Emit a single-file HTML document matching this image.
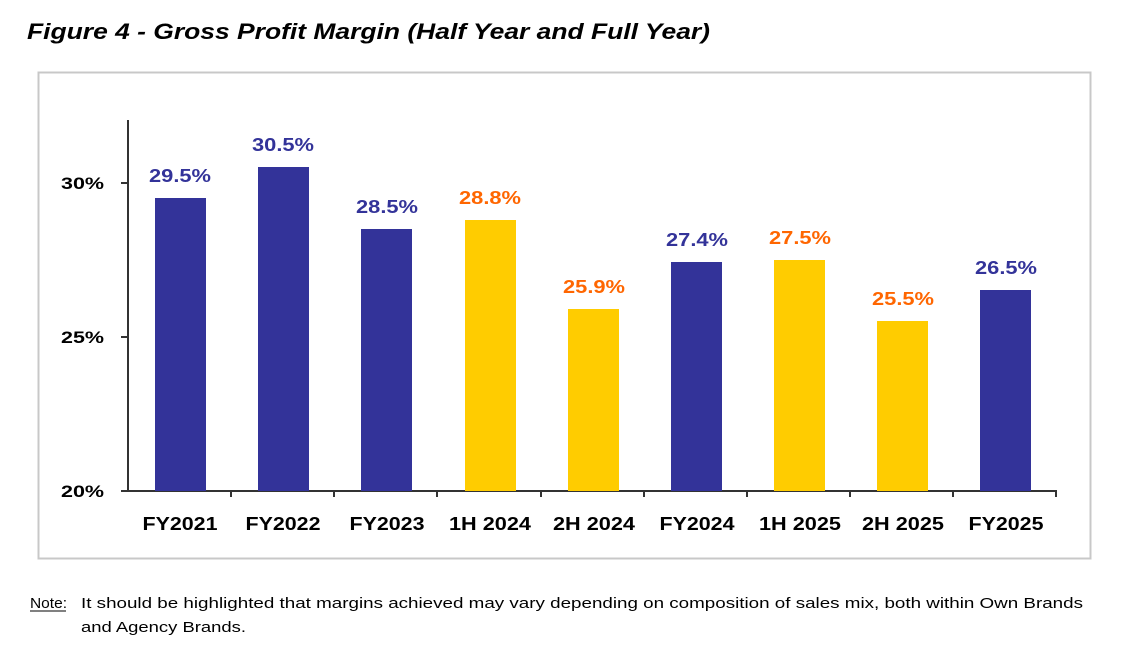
<!DOCTYPE html>
<html><head><meta charset="utf-8"><style>
body{margin:0;background:#fff;width:1130px;height:658px;overflow:hidden;font-family:"Liberation Sans",sans-serif}
</style></head><body>
<svg width="1130" height="658" xmlns="http://www.w3.org/2000/svg">
<text x="27" y="39" font-family="Liberation Sans" font-weight="bold" font-style="italic" font-size="22" fill="#000" textLength="683" lengthAdjust="spacingAndGlyphs">Figure 4 - Gross Profit Margin (Half Year and Full Year)</text>
<rect x="38.5" y="72.5" width="1052" height="486" fill="#fff" stroke="#c8c8c8" stroke-width="2"/>
<g font-family="Liberation Sans" font-weight="bold" font-size="17" fill="#000" text-anchor="end">
<text x="104" y="189" textLength="43" lengthAdjust="spacingAndGlyphs">30%</text><text x="104" y="343" textLength="43" lengthAdjust="spacingAndGlyphs">25%</text><text x="104" y="497" textLength="43" lengthAdjust="spacingAndGlyphs">20%</text>
</g>
<g stroke="#333" stroke-width="2">
<line x1="128" y1="120" x2="128" y2="492"/>
<line x1="121" y1="183" x2="128" y2="183"/><line x1="121" y1="337" x2="128" y2="337"/><line x1="121" y1="491" x2="128" y2="491"/>
<line x1="127" y1="491" x2="1057" y2="491"/>
<line x1="231" y1="491" x2="231" y2="497"/><line x1="334" y1="491" x2="334" y2="497"/><line x1="437" y1="491" x2="437" y2="497"/><line x1="541" y1="491" x2="541" y2="497"/><line x1="644" y1="491" x2="644" y2="497"/><line x1="747" y1="491" x2="747" y2="497"/><line x1="850" y1="491" x2="850" y2="497"/><line x1="953" y1="491" x2="953" y2="497"/><line x1="1056" y1="491" x2="1056" y2="497"/>
</g>
<g>
<rect x="155" y="198" width="51" height="293" fill="#333399"/>
<rect x="258" y="167" width="51" height="324" fill="#333399"/>
<rect x="361" y="229" width="51" height="262" fill="#333399"/>
<rect x="465" y="220" width="51" height="271" fill="#ffcc00"/>
<rect x="568" y="309" width="51" height="182" fill="#ffcc00"/>
<rect x="671" y="262" width="51" height="229" fill="#333399"/>
<rect x="774" y="260" width="51" height="231" fill="#ffcc00"/>
<rect x="877" y="321" width="51" height="170" fill="#ffcc00"/>
<rect x="980" y="290" width="51" height="201" fill="#333399"/>
</g>
<g font-family="Liberation Sans" font-weight="bold" font-size="18" text-anchor="middle">
<text x="180" y="182" fill="#333399" textLength="62" lengthAdjust="spacingAndGlyphs">29.5%</text>
<text x="283" y="151" fill="#333399" textLength="62" lengthAdjust="spacingAndGlyphs">30.5%</text>
<text x="387" y="213" fill="#333399" textLength="62" lengthAdjust="spacingAndGlyphs">28.5%</text>
<text x="490" y="204" fill="#ff6600" textLength="62" lengthAdjust="spacingAndGlyphs">28.8%</text>
<text x="594" y="293" fill="#ff6600" textLength="62" lengthAdjust="spacingAndGlyphs">25.9%</text>
<text x="697" y="246" fill="#333399" textLength="62" lengthAdjust="spacingAndGlyphs">27.4%</text>
<text x="800" y="244" fill="#ff6600" textLength="62" lengthAdjust="spacingAndGlyphs">27.5%</text>
<text x="903" y="305" fill="#ff6600" textLength="62" lengthAdjust="spacingAndGlyphs">25.5%</text>
<text x="1006" y="274" fill="#333399" textLength="62" lengthAdjust="spacingAndGlyphs">26.5%</text>
</g>
<g font-family="Liberation Sans" font-weight="bold" font-size="18" fill="#000" text-anchor="middle">
<text x="180" y="530" textLength="75" lengthAdjust="spacingAndGlyphs">FY2021</text><text x="283" y="530" textLength="75" lengthAdjust="spacingAndGlyphs">FY2022</text><text x="387" y="530" textLength="75" lengthAdjust="spacingAndGlyphs">FY2023</text>
<text x="490" y="530" textLength="82" lengthAdjust="spacingAndGlyphs">1H 2024</text><text x="594" y="530" textLength="82" lengthAdjust="spacingAndGlyphs">2H 2024</text><text x="697" y="530" textLength="75" lengthAdjust="spacingAndGlyphs">FY2024</text>
<text x="800" y="530" textLength="82" lengthAdjust="spacingAndGlyphs">1H 2025</text><text x="903" y="530" textLength="82" lengthAdjust="spacingAndGlyphs">2H 2025</text><text x="1006" y="530" textLength="75" lengthAdjust="spacingAndGlyphs">FY2025</text>
</g>
<g font-family="Liberation Sans" font-size="15" fill="#000">
<text x="30" y="608" textLength="37" lengthAdjust="spacingAndGlyphs">Note:</text>
<line x1="30" y1="611" x2="66" y2="611" stroke="#000" stroke-width="1"/>
<text x="81" y="608" textLength="1002" lengthAdjust="spacingAndGlyphs">It should be highlighted that margins achieved may vary depending on composition of sales mix, both within Own Brands</text>
<text x="81" y="632" textLength="165" lengthAdjust="spacingAndGlyphs">and Agency Brands.</text>
</g>
</svg>
</body></html>
